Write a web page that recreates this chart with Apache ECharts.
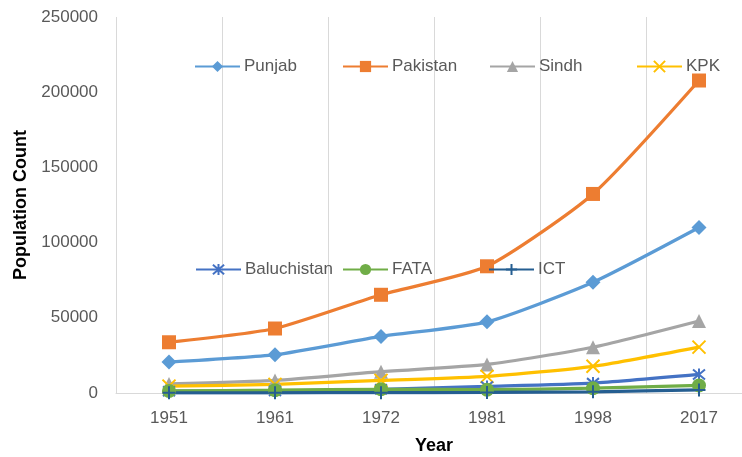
<!DOCTYPE html>
<html><head><meta charset="utf-8">
<script src="https://cdn.jsdelivr.net/npm/echarts@6/dist/echarts.min.js"></script>
<style>html,body{margin:0;padding:0;background:#fff}#c{width:742px;height:457px}</style>
</head><body><div id="c"></div>
<script>
var years = ['1951','1961','1972','1981','1998','2017'];
var punjab = [20541, 25464, 37607, 47292, 73621, 110012];
var pakistan = [33740, 42880, 65309, 84254, 132352, 207774];
var sindh = [6048, 8367, 14156, 19029, 30440, 47886];
var kpk = [4557, 5731, 8389, 11061, 17744, 30523];
var baluchistan = [1167, 1353, 2429, 4332, 6566, 12344];
var fata = [1332, 1847, 2491, 2199, 3176, 5001];
var ict = [96, 118, 238, 340, 805, 2006];
var yTicks = [0, 50000, 100000, 150000, 200000, 250000];

var FONT = 'Liberation Sans';
var X_PATH = 'path://M0,0L10,10M10,0L0,10';
var AST_PATH = 'path://M0,0L10,10M10,0L0,10M5,-1L5,11';
var PLUS_PATH = 'path://M5,0L5,10M0,5L10,5';

function ser(name, data, color, symbol, size, stroke) {
  return {
    name: name, type: 'line', data: data, smooth: 0.2,
    symbol: symbol, symbolSize: size,
    lineStyle: {color: color, width: 3.25},
    itemStyle: stroke ? {color: color, borderColor: color, borderWidth: 2} : {color: color, borderWidth: 0},
    emphasis: {disabled: true}
  };
}
var series = [
  ser('Punjab', punjab, '#5B9BD5', 'diamond', 15),
  ser('Pakistan', pakistan, '#ED7D31', 'rect', 14),
  ser('Sindh', sindh, '#A5A5A5', 'triangle', 14),
  ser('KPK', kpk, '#FFC000', X_PATH, 13, true),
  ser('Baluchistan', baluchistan, '#4472C4', AST_PATH, 12, true),
  ser('FATA', fata, '#70AD47', 'circle', 14),
  ser('ICT', ict, '#255E91', PLUS_PATH, 13, true)
];
var legendPos = [
  ['Punjab', 194, 58], ['Pakistan', 342, 58], ['Sindh', 489, 58], ['KPK', 636, 58],
  ['Baluchistan', 195, 261], ['FATA', 342, 261], ['ICT', 488, 261]
];
var legends = legendPos.map(function (p) {
  return {
    data: [p[0]], left: p[1], top: p[2], padding: 0,
    itemWidth: 45, itemHeight: 14, itemGap: 0,
    textStyle: {fontFamily: FONT, fontSize: 17, color: '#595959', padding: [0, 0, 0, -1]},
    selectedMode: false
  };
});

var chart = echarts.init(document.getElementById('c'));
chart.setOption({
  animation: false,
  backgroundColor: '#fff',
  legend: legends,
  grid: {left: 116, top: 17, height: 376, width: 636, containLabel: false, outerBoundsMode: 'none'},
  xAxis: {
    type: 'category', data: years, boundaryGap: true,
    name: 'Year', nameLocation: 'middle', nameGap: 44,
    nameTextStyle: {fontFamily: FONT, fontSize: 18, fontWeight: 'bold', color: '#000'},
    axisLine: {show: true, lineStyle: {color: '#D9D9D9', width: 1}},
    axisTick: {show: false},
    axisLabel: {fontFamily: FONT, fontSize: 17, color: '#595959', margin: 17},
    splitLine: {show: true, lineStyle: {color: '#D9D9D9', width: 1}}
  },
  yAxis: {
    type: 'value', min: yTicks[0], max: yTicks[yTicks.length - 1], interval: 50000,
    name: 'Population Count', nameLocation: 'middle', nameGap: 84,
    nameTextStyle: {fontFamily: FONT, fontSize: 18, fontWeight: 'bold', color: '#000'},
    axisLine: {show: false}, axisTick: {show: false},
    axisLabel: {fontFamily: FONT, fontSize: 17, color: '#595959', margin: 18,
      formatter: function (v) { return String(v); }},
    splitLine: {show: false}
  },
  series: series
});
</script></body></html>
